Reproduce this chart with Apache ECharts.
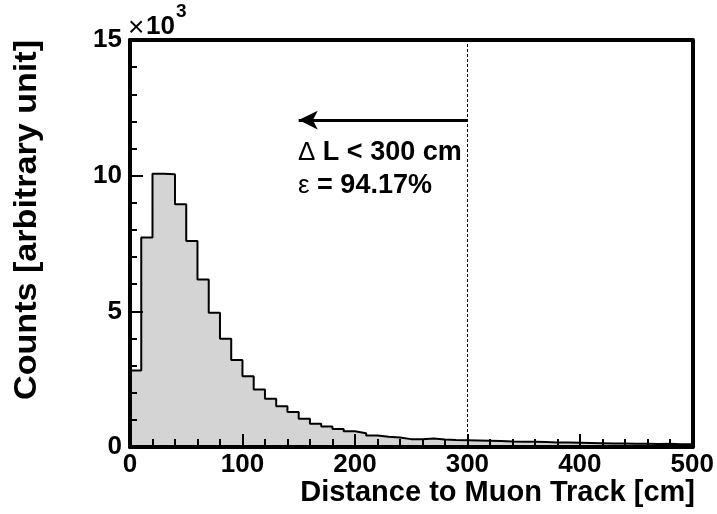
<!DOCTYPE html>
<html>
<head>
<meta charset="utf-8">
<script src="https://cdn.jsdelivr.net/npm/echarts@6/dist/echarts.min.js"></script>
<style>html,body{margin:0;padding:0;background:#fff}#c{width:717px;height:514px}</style>
</head>
<body>
<div id="c"></div>
<script>
// Histogram: 50 bins of width 10 cm from 0 to 500 cm, counts in units of 10^3
const binWidth = 10;
const counts = [
  2.82, 7.72, 10.07, 10.05, 8.95, 7.59, 6.17, 4.95, 3.99, 3.21,
  2.61, 2.12, 1.78, 1.50, 1.29, 1.04, 0.86, 0.76, 0.66, 0.58,
  0.51, 0.42, 0.38, 0.35, 0.29, 0.29, 0.31, 0.28, 0.26, 0.25,
  0.24, 0.23, 0.22, 0.20, 0.19, 0.19, 0.18, 0.17, 0.17, 0.16,
  0.15, 0.14, 0.13, 0.13, 0.12, 0.12, 0.11, 0.12, 0.10, 0.10
];
const xTickLabels = ['0', '100', '200', '300', '400', '500'];
const yTickLabels = ['0', '5', '10', '15'];
const cutValue = 300;      // Delta L cut [cm]
const arrowTip = 150;      // arrow head position [cm]
const arrowY = 12.05;      // arrow height (x10^3)

const FONT = "'Liberation Sans', Arial, Helvetica, sans-serif";

// step outline points at bin left edges (plus closing right edge)
const stepData = counts.map((c, i) => [i * binWidth, c]);
stepData.push([counts.length * binWidth, counts[counts.length - 1]]);

const chart = echarts.init(document.getElementById('c'), null, {renderer: 'canvas'});

const labelStyle = {color: '#000', fontFamily: FONT, fontWeight: 'bold', fontSize: 26};

chart.setOption({
  animation: false,
  backgroundColor: '#fff',
  grid: {left: 130, right: 24, top: 40, bottom: 67, containLabel: false},
  xAxis: [{
    type: 'value', min: 0, max: 500, interval: 100, position: 'bottom', z: 10,
    axisLine: {show: true, onZero: false, lineStyle: {color: '#000', width: 4}},
    axisTick: {show: true, inside: true, length: 13, lineStyle: {color: '#000', width: 2}},
    minorTick: {show: true, splitNumber: 5, length: 8, lineStyle: {color: '#000', width: 2}},
    splitLine: {show: false},
    axisLabel: Object.assign({margin: 5, formatter: v => xTickLabels[Math.round(v / 100)]}, labelStyle)
  }, {
    type: 'value', min: 0, max: 500, position: 'top', z: 10,
    axisLine: {show: true, onZero: false, lineStyle: {color: '#000', width: 4}},
    axisTick: {show: false}, axisLabel: {show: false}, splitLine: {show: false}
  }],
  yAxis: [{
    type: 'value', min: 0, max: 15, interval: 5, position: 'left', z: 10,
    axisLine: {show: true, onZero: false, lineStyle: {color: '#000', width: 4}},
    axisTick: {show: true, inside: true, length: 13, lineStyle: {color: '#000', width: 2}},
    minorTick: {show: true, splitNumber: 5, length: 7, lineStyle: {color: '#000', width: 2}},
    splitLine: {show: false},
    axisLabel: Object.assign({margin: 8, formatter: v => yTickLabels[Math.round(v / 5)]}, labelStyle)
  }, {
    type: 'value', min: 0, max: 15, position: 'right', z: 10,
    axisLine: {show: true, onZero: false, lineStyle: {color: '#000', width: 4}},
    axisTick: {show: false}, axisLabel: {show: false}, splitLine: {show: false}
  }],
  series: [{
    type: 'line',
    step: 'end',
    data: stepData,
    symbol: 'none',
    z: 2,
    lineStyle: {color: '#000', width: 2},
    areaStyle: {color: '#d4d4d4', opacity: 1},
    markLine: {
      silent: true,
      animation: false,
      label: {show: false},
      data: [
        [{coord: [cutValue, 0], symbol: 'none', lineStyle: {color: '#000', width: 1, type: [3, 2]}},
         {coord: [cutValue, 15], symbol: 'none'}],
        [{coord: [cutValue, arrowY], symbol: 'none', lineStyle: {color: '#000', width: 3, type: 'solid'}},
         {coord: [arrowTip, arrowY], symbol: 'arrow', symbolSize: [14, 19]}]
      ]
    }
  }],
  graphic: [
    {type: 'text', x: 298, y: 153, z: 20, style: {
      text: '{s|Δ} L < 300 cm', font: "bold 27px " + FONT, fill: '#000', align: 'left', verticalAlign: 'middle',
      rich: {s: {fontFamily: FONT, fontWeight: 'normal', fontSize: 26, fill: '#000'}}}},
    {type: 'text', x: 298, y: 186, z: 20, style: {
      text: '{s|ε} = 94.17%', font: "bold 27px " + FONT, fill: '#000', align: 'left', verticalAlign: 'middle',
      rich: {s: {fontFamily: FONT, fontWeight: 'normal', fontSize: 26, fill: '#000'}}}},
    {type: 'text', x: 128, y: 28, z: 20, style: {text: '×', font: "28px " + FONT, fill: '#000', align: 'left', verticalAlign: 'middle'}},
    {type: 'text', x: 146, y: 27, z: 20, style: {text: '10', font: "bold 26px " + FONT, fill: '#000', align: 'left', verticalAlign: 'middle'}},
    {type: 'text', x: 176, y: 12, z: 20, style: {text: '3', font: "bold 19px " + FONT, fill: '#000', align: 'left', verticalAlign: 'middle'}},
    {type: 'text', x: 695, y: 493, z: 20, style: {text: 'Distance to Muon Track [cm]', font: "bold 29px " + FONT, fill: '#000', align: 'right', verticalAlign: 'middle'}},
    {type: 'text', x: 27, y: 40, rotation: Math.PI / 2, scaleX: 1.1, z: 20, style: {text: 'Counts [arbitrary unit]', font: "bold 31px " + FONT, fill: '#000', align: 'right', verticalAlign: 'middle'}}
  ]
});
</script>
</body>
</html>
